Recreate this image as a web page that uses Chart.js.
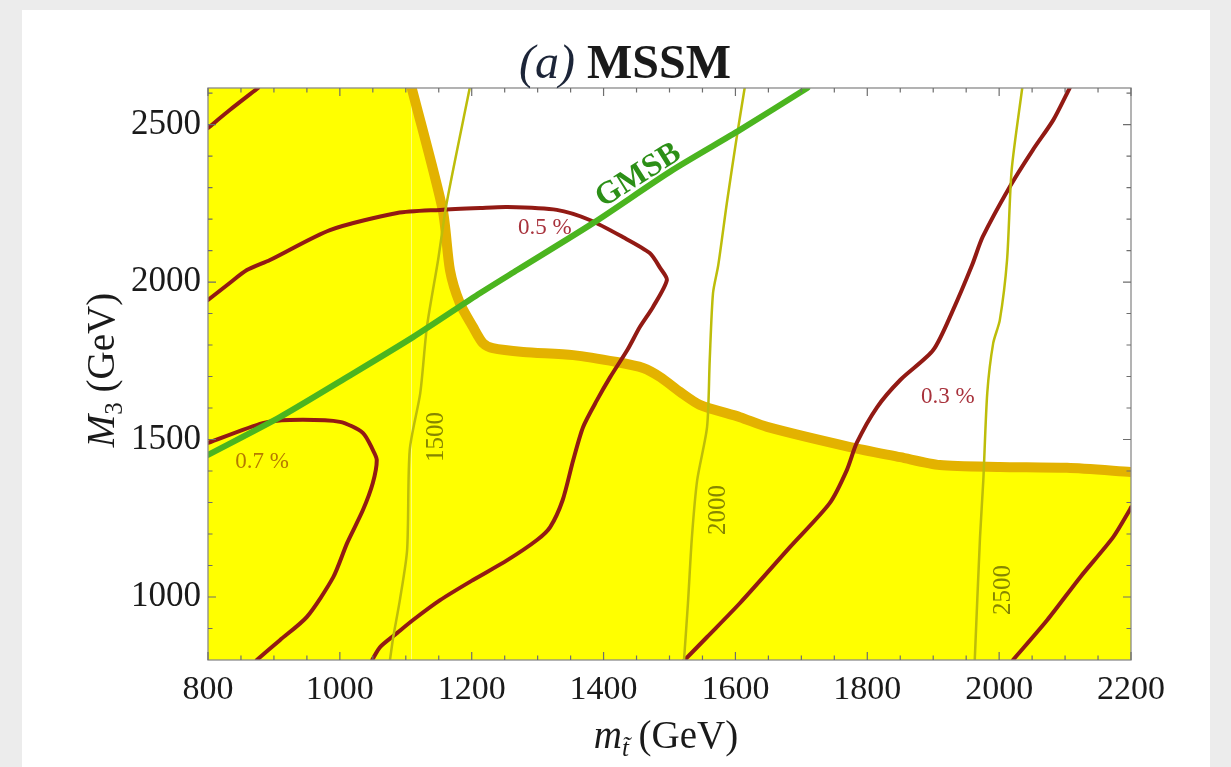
<!DOCTYPE html>
<html>
<head>
<meta charset="utf-8">
<title>(a) MSSM</title>
<script src="https://cdn.jsdelivr.net/npm/chart.js@4.4.1/dist/chart.umd.min.js"></script>
<style>
  html, body { margin: 0; padding: 0; background: #ececec; overflow: hidden; }
  #panel { position: absolute; left: 22px; top: 10px; width: 1188px; height: 757px; background: #ffffff; }
  #c { position: absolute; left: 0; top: 0; }
</style>
</head>
<body>
<div id="panel"></div>
<canvas id="c" width="1231" height="767"></canvas>
<script>
// ---- axes ----
const xRange = [800, 2200];
const yRange = [800, 2616];
const xTickValues = [800, 1000, 1200, 1400, 1600, 1800, 2000, 2200];
const yTickValues = [1000, 1500, 2000, 2500];

// ---- boundary of the yellow region (thick orange curve) ----
const edgeX = [1109, 1156, 1167, 1182, 1202, 1217, 1232, 1278, 1354, 1420, 1460, 1486, 1516, 1546, 1607, 1648, 1774, 1850, 1910, 2001, 2103, 2200];
const edgeY = [2616, 2229, 2038, 1933, 1857, 1806, 1790, 1778, 1768, 1746, 1727, 1698, 1651, 1610, 1571, 1540, 1476, 1444, 1419, 1413, 1410, 1397];

// ---- fine-tuning contours (dark red) ----
const tuneAX = [800, 833, 876];
const tuneAY = [2489, 2546, 2616];

const tune07X = [800, 883, 924, 1000, 1035, 1050, 1056, 1050, 1035, 1011, 990, 950, 909, 874];
const tune07Y = [1489, 1552, 1562, 1556, 1521, 1467, 1435, 1362, 1276, 1171, 1063, 937, 863, 800];

const tune05X = [800, 833, 859, 894, 985, 1087, 1152, 1213, 1254, 1329, 1379, 1429, 1470, 1486, 1496, 1475, 1455, 1436, 1410, 1390, 1369, 1354, 1338, 1319, 1299, 1254, 1202, 1152, 1111, 1087, 1061, 1049];
const tune05Y = [1943, 1997, 2038, 2070, 2165, 2219, 2229, 2235, 2238, 2229, 2197, 2143, 2092, 2044, 2006, 1921, 1857, 1784, 1698, 1625, 1540, 1435, 1308, 1222, 1181, 1117, 1054, 990, 927, 886, 841, 800];

const tune03X = [1523, 1557, 1607, 1683, 1743, 1769, 1784, 1815, 1850, 1900, 1930, 1959, 1975, 2016, 2051, 2082, 2107];
const tune03Y = [800, 873, 981, 1159, 1298, 1403, 1489, 1603, 1689, 1784, 1911, 2054, 2143, 2302, 2419, 2514, 2616];

const tuneBX = [2021, 2073, 2123, 2173, 2198, 2200];
const tuneBY = [800, 927, 1063, 1190, 1276, 1285];

// ---- gluino mass contours (olive) ----
const mass1500X = [1076, 1081, 1091, 1102, 1106, 1122, 1132, 1149, 1162, 1197];
const mass1500Y = [800, 873, 990, 1149, 1467, 1648, 1857, 2070, 2251, 2616];
const mass2000X = [1522, 1528, 1534, 1542, 1557, 1561, 1566, 1574, 1587, 1602, 1614];
const mass2000Y = [800, 981, 1190, 1371, 1540, 1752, 1965, 2054, 2251, 2460, 2616];
const mass2500X = [1963, 1971, 1976, 1982, 1991, 2001, 2012, 2019, 2035];
const mass2500Y = [800, 1190, 1371, 1648, 1806, 1879, 2070, 2356, 2616];

// ---- GMSB line ----
const gmsbX = [800, 909, 1011, 1111, 1213, 1269, 1384, 1505, 1607, 1709];
const gmsbY = [1451, 1571, 1698, 1825, 1965, 2038, 2187, 2356, 2483, 2616];

// ---- labels ----
const tuneLabels = ['0.7 %', '0.5 %', '0.3 %'];
const tuneLabelX = [882, 1311, 1922];
const tuneLabelY = [1429, 2171, 1635];
const massLabels = ['1500', '2000', '2500'];
const massLabelX = [1147, 1574, 2006];
const massLabelY = [1508, 1276, 1022];
const gmsbLabel = 'GMSB';
const gmsbLabelX = 1453;
const gmsbLabelY = 2338;

const SERIF = '"Liberation Serif", "DejaVu Serif", serif';
const TENSION = 0.25;

function pts(xs, ys) { return xs.map((v, i) => ({ x: v, y: ys[i] })); }

function curve(xs, ys, color, width, order) {
  return {
    data: pts(xs, ys), showLine: true, pointRadius: 0, borderColor: color,
    borderWidth: width, tension: TENSION, fill: false, order: order,
    borderCapStyle: 'round', borderJoinStyle: 'round'
  };
}

const RED = '#921a14';
const OLIVE = '#bdbd0a';

const datasets = [
  // yellow region: the part under the boundary curve ...
  {
    data: pts(edgeX, edgeY), showLine: true, pointRadius: 0, borderWidth: 0,
    borderColor: 'rgba(0,0,0,0)', backgroundColor: '#ffff00', fill: 'start',
    tension: TENSION, order: 11
  },
  // ... and the full-height block left of where the boundary meets the top edge
  {
    data: [{ x: xRange[0], y: edgeY[0] }, { x: edgeX[0], y: edgeY[0] }], showLine: true,
    pointRadius: 0, borderWidth: 0, borderColor: 'rgba(0,0,0,0)', backgroundColor: '#ffff00',
    fill: 'start', tension: 0, order: 10
  },
  curve(edgeX, edgeY, '#e3b200', 10, 9),
  curve(tuneAX, tuneAY, RED, 4, 8),
  curve(tune07X, tune07Y, RED, 4, 8),
  curve(tune05X, tune05Y, RED, 4, 8),
  curve(tune03X, tune03Y, RED, 4, 8),
  curve(tuneBX, tuneBY, RED, 4, 8),
  curve(mass1500X, mass1500Y, OLIVE, 2.5, 7),
  curve(mass2000X, mass2000Y, OLIVE, 2.5, 7),
  curve(mass2500X, mass2500Y, OLIVE, 2.5, 7),
  curve(gmsbX, gmsbY, '#4bb51f', 6, 6)
];

function drawRich(ctx, parts, x, y, align) {
  // parts: [{t, font, dy}] drawn along one baseline
  let total = 0;
  parts.forEach(p => { ctx.font = p.font; p.w = ctx.measureText(p.t).width; total += p.w; });
  let cx = align === 'center' ? x - total / 2 : x;
  parts.forEach(p => {
    ctx.font = p.font; ctx.fillStyle = p.color || '#1a1a1a';
    ctx.fillText(p.t, cx, y + (p.dy || 0));
    cx += p.w;
  });
}

const decor = {
  id: 'decor',
  afterDatasetsDraw(chart) {
    const { ctx, chartArea: a, scales: { x, y } } = chart;
    ctx.save();
    ctx.beginPath();
    ctx.rect(a.left, a.top, a.right - a.left, a.bottom - a.top);
    ctx.clip();
    ctx.textAlign = 'center';
    ctx.textBaseline = 'middle';

    // fine-tuning labels
    ctx.font = '23px ' + SERIF;
    tuneLabels.forEach((t, i) => {
      ctx.fillStyle = i === 0 ? '#b57a00' : '#a8323c';
      ctx.fillText(t, x.getPixelForValue(tuneLabelX[i]), y.getPixelForValue(tuneLabelY[i]));
    });

    // gluino mass labels, written along the lines
    ctx.font = '25px ' + SERIF;
    ctx.fillStyle = '#858500';
    massLabels.forEach((t, i) => {
      ctx.save();
      ctx.translate(x.getPixelForValue(massLabelX[i]), y.getPixelForValue(massLabelY[i]));
      ctx.rotate(-Math.PI / 2);
      ctx.fillText(t, 0, 0);
      ctx.restore();
    });

    // GMSB label, rotated to follow the line
    const gx0 = x.getPixelForValue(gmsbX[5]), gy0 = y.getPixelForValue(gmsbY[5]);
    const gx1 = x.getPixelForValue(gmsbX[8]), gy1 = y.getPixelForValue(gmsbY[8]);
    ctx.save();
    ctx.translate(x.getPixelForValue(gmsbLabelX), y.getPixelForValue(gmsbLabelY));
    ctx.rotate(Math.atan2(gy1 - gy0, gx1 - gx0));
    ctx.font = 'bold 32px ' + SERIF;
    ctx.fillStyle = '#2c8f17';
    ctx.fillText(gmsbLabel, 0, 0);
    ctx.restore();
    ctx.restore();

    // frame with inward ticks on all four sides
    ctx.save();
    ctx.strokeStyle = '#8a8a8a';
    ctx.lineWidth = 1.3;
    ctx.strokeRect(a.left, a.top, a.right - a.left, a.bottom - a.top);
    ctx.lineWidth = 1.2;
    ctx.strokeStyle = '#6e6e6e';
    ctx.beginPath();
    for (let v = xRange[0]; v <= xRange[1]; v += 50) {
      const px = x.getPixelForValue(v);
      const len = xTickValues.includes(v) ? 8 : 4.5;
      ctx.moveTo(px, a.bottom); ctx.lineTo(px, a.bottom - len);
      ctx.moveTo(px, a.top); ctx.lineTo(px, a.top + len);
    }
    for (let v = 900; v <= yRange[1]; v += 100) {
      const py = y.getPixelForValue(v);
      const len = yTickValues.includes(v) ? 8 : 4.5;
      ctx.moveTo(a.left, py); ctx.lineTo(a.left + len, py);
      ctx.moveTo(a.right, py); ctx.lineTo(a.right - len, py);
    }
    ctx.stroke();
    ctx.restore();
  },
  afterDraw(chart) {
    const { ctx } = chart;
    ctx.save();
    ctx.textBaseline = 'alphabetic';
    ctx.textAlign = 'left';

    // title
    drawRich(ctx, [
      { t: '(a) ', font: 'italic 48px ' + SERIF, color: '#1c2538' },
      { t: 'MSSM', font: 'bold 48px ' + SERIF, color: '#1a1a1a' }
    ], 625, 78, 'center');

    // x axis title
    drawRich(ctx, [
      { t: 'm', font: 'italic 39px ' + SERIF },
      { t: 't\u0303', font: 'italic 25px ' + SERIF, dy: 8 },
      { t: ' (GeV)', font: '39px ' + SERIF }
    ], 666, 748, 'center');

    // y axis title
    ctx.translate(114, 370);
    ctx.rotate(-Math.PI / 2);
    drawRich(ctx, [
      { t: 'M', font: 'italic 39px ' + SERIF },
      { t: '3', font: '25px ' + SERIF, dy: 8 },
      { t: ' (GeV)', font: '39px ' + SERIF }
    ], 0, 0, 'center');
    ctx.restore();
  }
};

new Chart(document.getElementById('c'), {
  type: 'scatter',
  data: { datasets: datasets },
  options: {
    responsive: false,
    animation: false,
    events: [],
    layout: { padding: { left: 0, right: 100, top: 88, bottom: 0 } },
    plugins: { legend: { display: false }, tooltip: { enabled: false }, title: { display: false } },
    scales: {
      x: {
        type: 'linear', min: xRange[0], max: xRange[1],
        grid: { display: false, drawTicks: false }, border: { display: false },
        afterBuildTicks: s => { s.ticks = xTickValues.map(v => ({ value: v })); },
        afterFit: s => { s.height = 107; },
        ticks: { padding: 10, color: '#1a1a1a', font: { family: SERIF, size: 34 }, maxRotation: 0, autoSkip: false,
                 callback: v => String(v) }
      },
      y: {
        type: 'linear', min: yRange[0], max: yRange[1],
        grid: { display: false, drawTicks: false }, border: { display: false },
        afterBuildTicks: s => { s.ticks = yTickValues.map(v => ({ value: v })); },
        afterFit: s => { s.width = 208; },
        ticks: { padding: 7, color: '#1a1a1a', font: { family: SERIF, size: 35 }, autoSkip: false,
                 callback: v => String(v) }
      }
    }
  },
  plugins: [decor]
});
</script>
</body>
</html>
